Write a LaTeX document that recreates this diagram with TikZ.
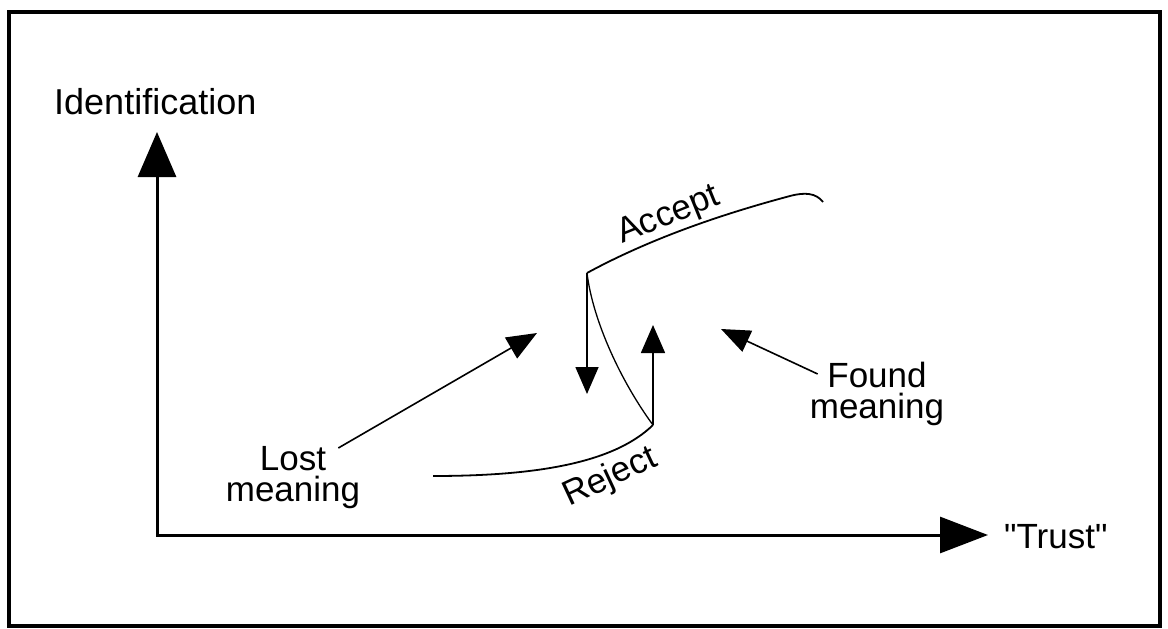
\documentclass[tikz,border=0pt]{standalone}
\usepackage{fontspec}
\setmainfont{Liberation Sans}[Ligatures=TeXOff]
\usetikzlibrary{arrows.meta}
\begin{document}
\begin{tikzpicture}[x=1pt,y=-1pt,
  lbl/.style={inner sep=0pt, font=\fontsize{35}{31}\selectfont},
  axis/.style={line width=3pt, line join=miter},
  curve/.style={line width=1.8pt},
  thincurve/.style={line width=1.3pt},
  pointer/.style={line width=1.6pt},
]
% canvas and frame
\fill[white] (0,0) rectangle (1168,629);
\useasboundingbox (0,0) rectangle (1168,629);
\draw[line width=3.5pt] (9,12) rectangle (1160,626);

% axes
\coordinate (O) at (157,535);
\coordinate (ytip) at (157,132);
\coordinate (xtip) at (988,535);
\draw[axis, {Triangle[length=45pt,width=38pt]}-{Triangle[length=48pt,width=36pt]}]
  (ytip) -- (O) -- (xtip);
\node[lbl, anchor=base west, font=\fontsize{36}{31}\selectfont] (idlabel) at (54,114) {Identification};
\node[lbl, anchor=base west] (trustlabel) at (1004,548) {"Trust"};

% hysteresis branches
\coordinate (acc) at (587,273);
\coordinate (accend) at (823,202);
\coordinate (rej) at (653,425);
\coordinate (rejstart) at (433,476);
\draw[curve] (acc) .. controls (655,236) and (730,212) .. (790,196)
  .. controls (805,192) and (816,193) .. (accend);
\draw[thincurve] (acc) .. controls (593,322) and (622,383) .. (rej);
\draw[curve] (rejstart) .. controls (540,476) and (615,462) .. (rej);

% jumps between the branches
\coordinate (downtip) at (587,394);
\coordinate (uptip) at (653,325);
\draw[pointer, -{Triangle[length=27pt,width=23pt]}] (acc) -- (downtip);
\draw[pointer, -{Triangle[length=28pt,width=24pt]}] (rej) -- (uptip);

% branch labels
\node[lbl, rotate=22, anchor=base west] (acclabel) at (622,244) {Accept};
\node[lbl, rotate=25, anchor=base west] (rejlabel) at (569,507) {Reject};

% annotations
\node[lbl, align=center, anchor=north] (lost) at (293,446) {Lost\\meaning};
\node[lbl, align=center, anchor=north] (found) at (877,362) {Found\\meaning};
\coordinate (losttip) at (537,333);
\coordinate (foundtip) at (721,329);
\draw[pointer, -{Triangle[length=30pt,width=24pt]}]
  ([shift={(-22,2)}]lost.north east) -- (losttip);
\draw[pointer, -{Triangle[length=29pt,width=23pt]}]
  ([shift={(8,12)}]found.north west) -- (foundtip);
\end{tikzpicture}
\end{document}
